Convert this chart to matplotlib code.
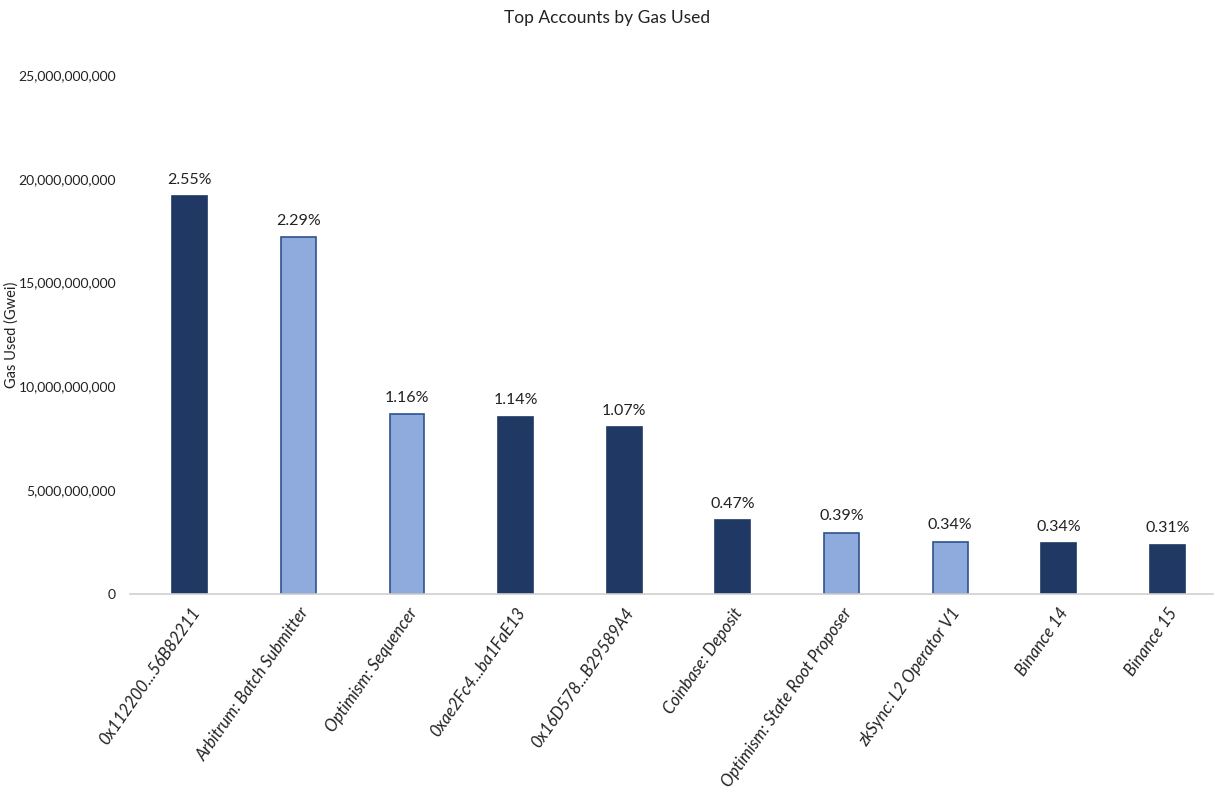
import matplotlib.pyplot as plt
from matplotlib.ticker import FuncFormatter

plt.rcParams['font.family'] = ['Lato', 'DejaVu Sans']

accounts = ['0x112200...56B82211', 'Arbitrum: Batch Submitter', 'Optimism: Sequencer',
            '0xae2Fc4...ba1FaE13', '0x16D578...B29589A4', 'Coinbase: Deposit',
            'Optimism: State Root Proposer', 'zkSync: L2 Operator V1', 'Binance 14', 'Binance 15']
gas_used = [19.17e9, 17.18e9, 8.67e9, 8.54e9, 8.04e9, 3.56e9, 2.95e9, 2.52e9, 2.44e9, 2.37e9]
share = ['2.55%', '2.29%', '1.16%', '1.14%', '1.07%', '0.47%', '0.39%', '0.34%', '0.34%', '0.31%']
is_l2 = [False, True, True, False, False, False, True, True, False, False]

dark = '#203864'
light = '#8FAADC'
colors = [light if l else dark for l in is_l2]
edges = ['#2F528F' if l else dark for l in is_l2]

fig = plt.figure(figsize=(12.15, 7.98), dpi=100)
ax = fig.add_axes([130 / 1215, 1 - 594 / 798, 1083 / 1215, 519 / 798])

x = range(len(accounts))
bars = ax.bar(x, gas_used, width=0.32, color=colors, edgecolor=edges, linewidth=1.2)

for b, s in zip(bars, share):
    ax.text(b.get_x() + b.get_width() / 2, b.get_height() + 4.5e8, s,
            ha='center', va='bottom', fontsize=11.5, color='#222222')

ax.set_ylim(0, 25e9)
ax.set_xlim(-0.55, 9.42)
ax.set_yticks([0, 5e9, 10e9, 15e9, 20e9, 25e9])
ax.yaxis.set_major_formatter(FuncFormatter(lambda v, p: f'{int(v):,}'))
ax.tick_params(axis='y', length=0, labelsize=10, pad=10, labelcolor='#222222')
ax.tick_params(axis='x', length=0, pad=8)
ax.set_xticks(list(x))
ax.set_xticklabels(accounts, rotation=55, ha='right', rotation_mode='anchor',
                   fontsize=12, style='italic', color='#222222')

for side in ['top', 'right', 'left']:
    ax.spines[side].set_visible(False)
ax.spines['bottom'].set_color('#D0D0D0')
ax.spines['bottom'].set_linewidth(1.2)

ax.set_ylabel('Gas Used (Gwei)', fontsize=10.5, color='#222222')
ax.yaxis.set_label_coords(-0.103, 0.5)
fig.text(0.5, 0.978, 'Top Accounts by Gas Used', ha='center', va='center', fontsize=12.5, color='#222222')

fig.savefig('out.png', dpi=100)
